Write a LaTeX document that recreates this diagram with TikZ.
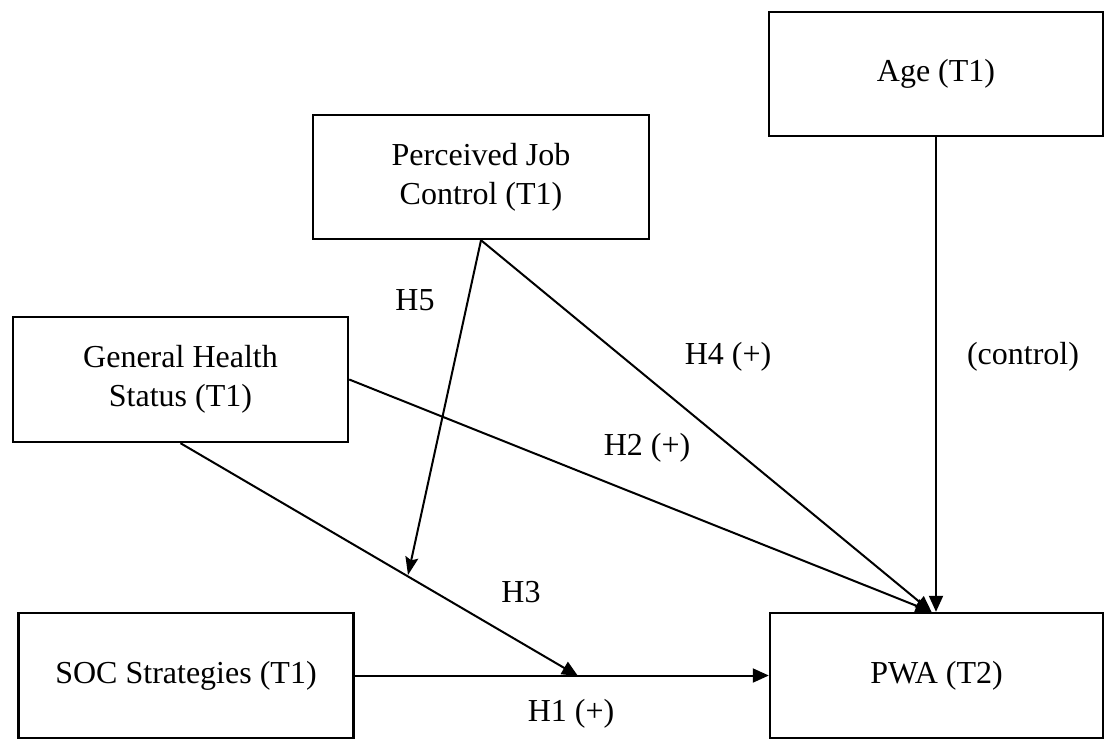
\documentclass[tikz,border=0pt]{standalone}
\usepackage{fontspec}
\setmainfont{Liberation Serif}
\usetikzlibrary{arrows.meta,calc}
\begin{document}
\begin{tikzpicture}[x=1pt,y=-1pt,
  box/.style={draw,line width=2.4pt,rectangle,align=center,font=\fontsize{32}{39}\selectfont},
  lbl/.style={font=\fontsize{32}{39}\selectfont,inner sep=0pt},
  conn/.style={line width=2pt},
  tri/.style={conn,-{Triangle[length=16pt,width=14pt]}},
  stl/.style={conn,-{Stealth[length=18pt,width=13pt,inset=3pt]}}]
\useasboundingbox (0,0) rectangle (1110,750);
\node[box,minimum width=334pt,minimum height=124pt] (age) at (936,74) {Age (T1)};
\node[box,minimum width=336pt,minimum height=124pt] (pjc) at (481,177) {Perceived Job\\Control (T1)};
\node[box,minimum width=335pt,minimum height=125pt] (ghs) at (180.5,379.5) {General Health\\Status (T1)};
\node[box,minimum width=335pt,minimum height=125pt] (soc) at (186,675.5) {SOC Strategies (T1)};
\node[box,minimum width=333pt,minimum height=125pt] (pwa) at (936.5,675.5) {PWA (T2)};
\coordinate (pin) at ([xshift=-5pt]pwa.north);
\coordinate (j1) at (578,676);
\coordinate (j2) at (408,575);
\draw[tri] (soc.east) -- (pwa.west);
\draw[tri] (ghs.south) -- (j1);
\draw[stl] (pjc.south) -- (j2);
\draw[tri] (pjc.south) -- (pin);
\draw[tri] (ghs.east) -- (pin);
\draw[tri] (age.south) -- (age.south |- pwa.north);
\node[lbl] (h5) at (415,300) {H5};
\node[lbl] (h4) at (728,357) {H4 (+)};
\node[lbl] (ctl) at (1023,357) {(control)};
\node[lbl] (h2) at (647,448) {H2 (+)};
\node[lbl] (h3) at (521,592) {H3};
\node[lbl] (h1) at (571,714) {H1 (+)};
\end{tikzpicture}
\end{document}
